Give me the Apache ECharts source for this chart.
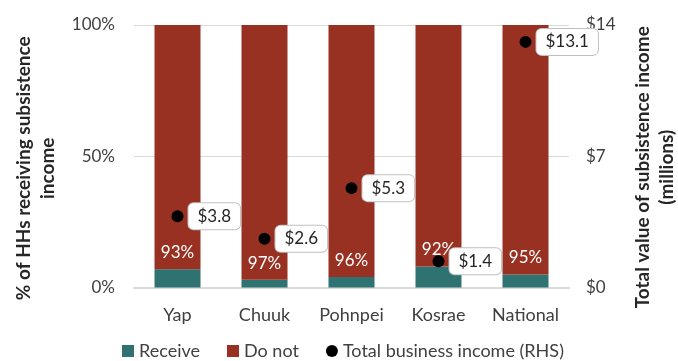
<!DOCTYPE html>
<html><head><meta charset="utf-8">
<script src="https://cdn.jsdelivr.net/npm/echarts@6/dist/echarts.min.js"></script>
<style>html,body{margin:0;padding:0;background:#fff}#c{width:678px;height:361px}</style>
</head><body><div id="c"></div>
<script>
const categories = ['Yap','Chuuk','Pohnpei','Kosrae','National'];
const receive = [7,3,4,8,5];
const doNot = [93,97,96,92,95];
const income = [3.8,2.6,5.3,1.4,13.1];
const leftTicks = [0,50,100];
const rightTicks = [0,7,14];
const FONT = 'Lato';
const chart = echarts.init(document.getElementById('c'));
chart.setOption({
  animation:false,
  textStyle:{fontFamily:FONT},
  grid:{left:134,right:109,top:25,bottom:73.5,containLabel:false,outerBoundsMode:'none'},
  legend:{bottom:-4,left:117,itemWidth:12,itemHeight:12,itemGap:27,
    textStyle:{fontSize:18,color:'#404040',fontFamily:FONT},
    data:[{name:'Receive',icon:'rect'},{name:'Do not',icon:'rect'},{name:'Total business income (RHS)',icon:'circle'}]},
  xAxis:{type:'category',data:categories,
    axisLine:{lineStyle:{color:'#d9d9d9',width:2}},axisTick:{show:false},
    axisLabel:{fontSize:18,color:'#404040',margin:19,interval:0}},
  yAxis:[{type:'value',min:0,max:100,interval:50,
    axisLabel:{formatter:v=>v+'%',fontSize:17,color:'#404040',margin:19},
    splitLine:{lineStyle:{color:'#d9d9d9'}},
    name:'% of HHs receiving subsistence\nincome',nameLocation:'middle',nameGap:74,nameRotate:90,
    nameTextStyle:{fontSize:19,fontWeight:'bold',color:'#262626',lineHeight:24,padding:[0,24,0,0]}},
   {type:'value',min:0,max:14,interval:7,
    axisLabel:{formatter:v=>'$'+v,fontSize:17,color:'#404040',margin:17},
    splitLine:{show:false},
    name:'Total value of subsistence income\n(millions)',nameLocation:'middle',nameGap:62,nameRotate:90,
    nameTextStyle:{fontSize:19,fontWeight:'bold',color:'#262626',lineHeight:24,padding:[0,22,0,0]}}],
  series:[
    {name:'Receive',type:'bar',stack:'a',data:receive,barWidth:46,itemStyle:{color:'#2e7272'}},
    {name:'Do not',type:'bar',stack:'a',data:doNot,itemStyle:{color:'#983122'},
      label:{show:true,position:'insideBottom',distance:8,formatter:p=>p.value+'%',color:'#fff',fontSize:17}},
    {name:'Total business income (RHS)',type:'scatter',yAxisIndex:1,data:income,symbolSize:12,
      itemStyle:{color:'#000',opacity:1},z:5,
      label:{show:true,position:'right',distance:5,formatter:p=>'$'+p.value.toFixed(1),opacity:1,
        color:'#262626',fontSize:17,backgroundColor:'#ffffff',borderColor:'#c0c0c0',borderWidth:1,
        borderRadius:5,padding:[5,9,4,9]}}
  ]
});
</script></body></html>
